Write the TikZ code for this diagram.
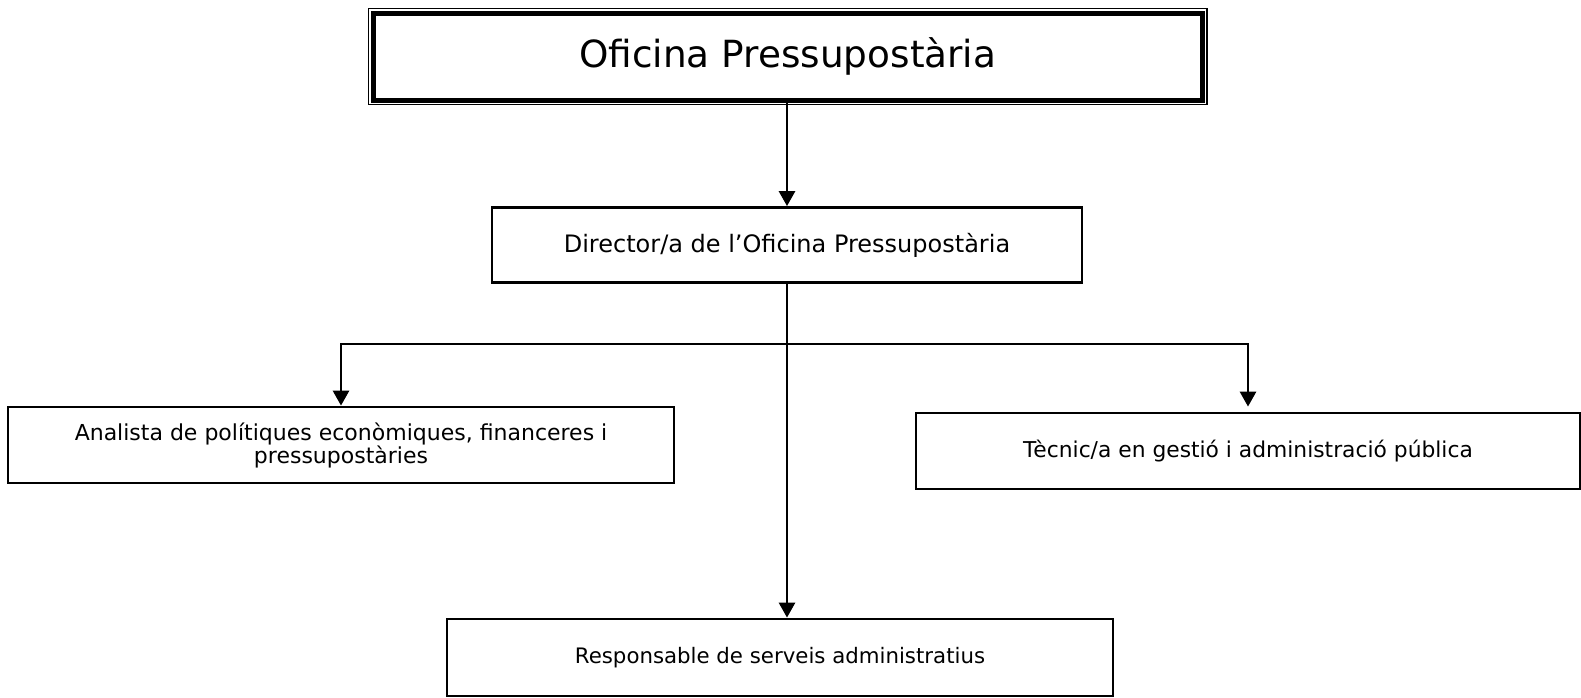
\documentclass[tikz,border=0pt]{standalone}
\usepackage{fontspec}
\setmainfont{DejaVu Sans}
\usetikzlibrary{arrows.meta}

\begin{document}
\begin{tikzpicture}[x=1pt,y=-1pt,
  box/.style={draw,line width=2.8pt,align=center,inner sep=0pt,minimum height=76pt},
  arr/.style={line width=2.8pt,-{Triangle[width=16pt,length=15pt]}}]
\useasboundingbox (0,0) rectangle (1581,697);
\node[draw,line width=5pt,minimum width=829.5pt,minimum height=87pt,inner sep=0pt,
  font=\fontsize{37.4}{44}\selectfont] (top) at (787.75,56.5) {Oficina Pressupostària};
\draw[line width=1.3pt] ([xshift=-2pt,yshift=2pt]top.north west) rectangle ([xshift=2pt,yshift=-2pt]top.south east);
\node[box,minimum width=590pt,minimum height=75pt,font=\fontsize{24}{24}\selectfont] (dir) at (787,245) {Director/a de l’Oficina Pressupostària};
\node[box,minimum width=666pt,font=\fontsize{22}{23}\selectfont] (ana) at (341,445) {Analista de polítiques econòmiques, financeres i\\pressupostàries};
\node[box,minimum width=664pt,font=\fontsize{21.8}{23}\selectfont] (tec) at (1248,451) {Tècnic/a en gestió i administració pública};
\node[box,minimum width=666pt,minimum height=77pt,font=\fontsize{21.3}{23}\selectfont] (resp) at (780,657.5) {Responsable de serveis administratius};
\coordinate (bar) at (787,344);
\draw[arr] (top.south -| dir.north) -- (dir.north);
\draw[arr] (dir.south) -- (dir.south |- resp.north);
\draw[arr] (bar) -| (ana.north);
\draw[arr,shorten >=5pt] (bar) -| (tec.north);
\end{tikzpicture}
\end{document}
